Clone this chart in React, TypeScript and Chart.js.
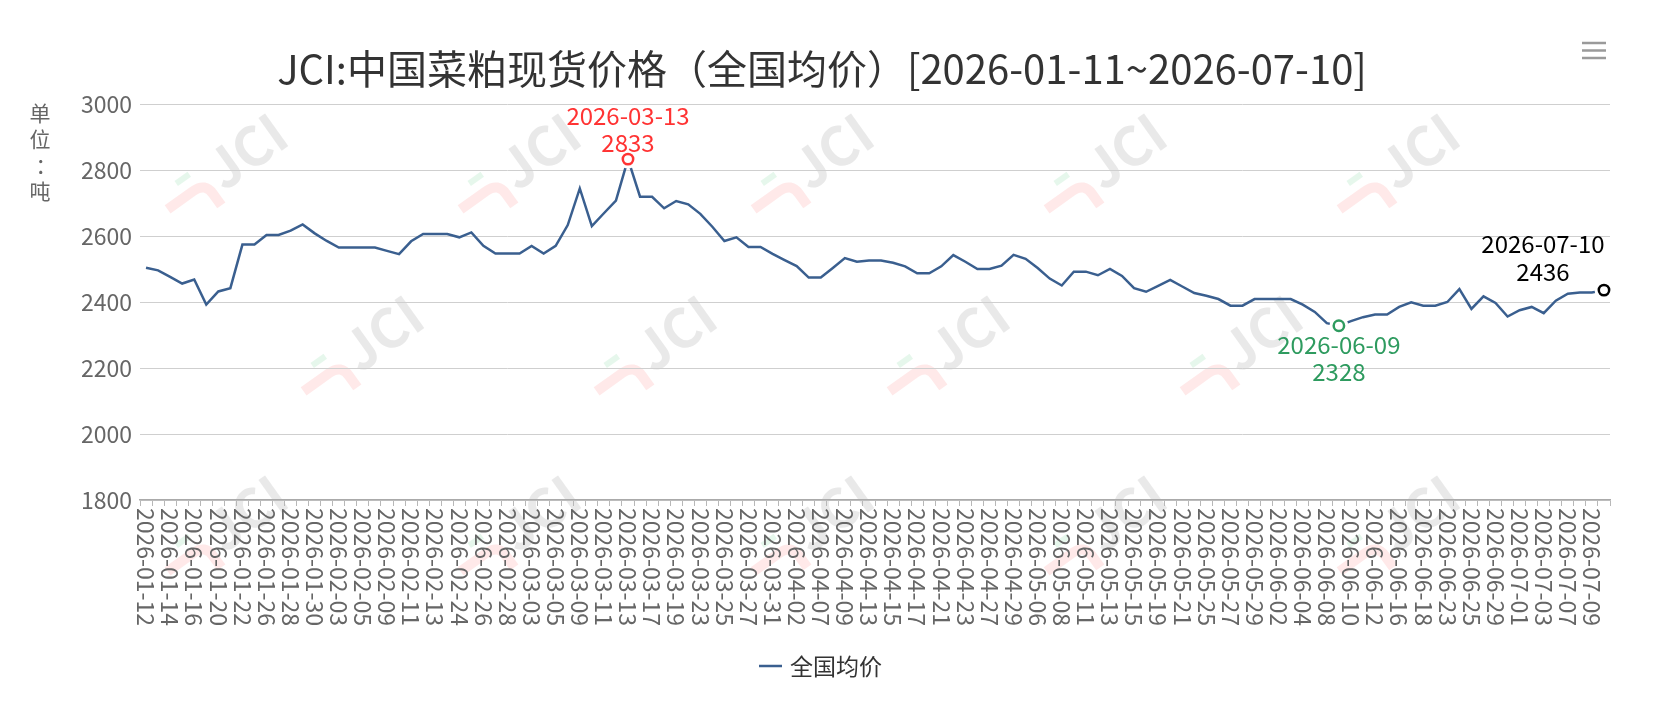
import React, { useEffect, useRef } from "react";
import { Chart, registerables } from "chart.js";

Chart.register(...registerables);

const TITLE = "JCI:中国菜粕现货价格（全国均价）[2026-01-11~2026-07-10]";
const SERIES_NAME = "全国均价";
const Y_TITLE_CHARS = ["单", "位", "：", "吨"];
const Y_MIN = 1800;
const Y_MAX = 3000;
const Y_STEP = 200;

const DATES = [
  "2026-01-12", "2026-01-13", "2026-01-14", "2026-01-15", "2026-01-16", "2026-01-19", "2026-01-20", "2026-01-21", "2026-01-22", "2026-01-23",
  "2026-01-26", "2026-01-27", "2026-01-28", "2026-01-29", "2026-01-30", "2026-02-02", "2026-02-03", "2026-02-04", "2026-02-05", "2026-02-06",
  "2026-02-09", "2026-02-10", "2026-02-11", "2026-02-12", "2026-02-13", "2026-02-14", "2026-02-24", "2026-02-25", "2026-02-26", "2026-02-27",
  "2026-02-28", "2026-03-02", "2026-03-03", "2026-03-04", "2026-03-05", "2026-03-06", "2026-03-09", "2026-03-10", "2026-03-11", "2026-03-12",
  "2026-03-13", "2026-03-16", "2026-03-17", "2026-03-18", "2026-03-19", "2026-03-20", "2026-03-23", "2026-03-24", "2026-03-25", "2026-03-26",
  "2026-03-27", "2026-03-30", "2026-03-31", "2026-04-01", "2026-04-02", "2026-04-03", "2026-04-07", "2026-04-08", "2026-04-09", "2026-04-10",
  "2026-04-13", "2026-04-14", "2026-04-15", "2026-04-16", "2026-04-17", "2026-04-20", "2026-04-21", "2026-04-22", "2026-04-23", "2026-04-24",
  "2026-04-27", "2026-04-28", "2026-04-29", "2026-04-30", "2026-05-06", "2026-05-07", "2026-05-08", "2026-05-09", "2026-05-11", "2026-05-12",
  "2026-05-13", "2026-05-14", "2026-05-15", "2026-05-18", "2026-05-19", "2026-05-20", "2026-05-21", "2026-05-22", "2026-05-25", "2026-05-26",
  "2026-05-27", "2026-05-28", "2026-05-29", "2026-06-01", "2026-06-02", "2026-06-03", "2026-06-04", "2026-06-05", "2026-06-08", "2026-06-09",
  "2026-06-10", "2026-06-11", "2026-06-12", "2026-06-15", "2026-06-16", "2026-06-17", "2026-06-18", "2026-06-22", "2026-06-23", "2026-06-24",
  "2026-06-25", "2026-06-26", "2026-06-29", "2026-06-30", "2026-07-01", "2026-07-02", "2026-07-03", "2026-07-06", "2026-07-07", "2026-07-08",
  "2026-07-09", "2026-07-10",
];

const PRICES = [
  2504, 2496, 2476, 2456, 2468, 2392, 2432, 2442, 2574, 2574,
  2603, 2603, 2616, 2635, 2608, 2585, 2565, 2565, 2565, 2565,
  2555, 2545, 2584, 2606, 2606, 2606, 2596, 2611, 2570, 2547,
  2547, 2547, 2570, 2547, 2570, 2633, 2744, 2630, 2669, 2707,
  2833, 2719, 2719, 2684, 2706, 2696, 2667, 2628, 2585, 2596,
  2567, 2567, 2546, 2527, 2509, 2474, 2474, 2503, 2533, 2522,
  2526, 2526, 2519, 2508, 2487, 2487, 2508, 2542, 2522, 2500,
  2500, 2510, 2543, 2531, 2503, 2471, 2450, 2492, 2492, 2481,
  2500, 2479, 2442, 2431, 2449, 2467, 2447, 2427, 2419, 2409,
  2389, 2389, 2409, 2409, 2409, 2409, 2392, 2370, 2336, 2328,
  2342, 2354, 2362, 2362, 2385, 2399, 2389, 2389, 2400, 2439,
  2379, 2417, 2397, 2356, 2375, 2385, 2366, 2404, 2425, 2429,
  2429, 2436,
];

const FONT = '"Noto Sans CJK SC", "Noto Sans", sans-serif';
const LINE_COLOR = "#3a5f8f";

function argMax(a: number[]) {
  let k = 0;
  for (let i = 1; i < a.length; i++) if (a[i] > a[k]) k = i;
  return k;
}
function argMin(a: number[]) {
  let k = 0;
  for (let i = 1; i < a.length; i++) if (a[i] < a[k]) k = i;
  return k;
}

const MAX_I = argMax(PRICES);
const MIN_I = argMin(PRICES);
const LAST_I = PRICES.length - 1;

const MARKS = [
  { i: MAX_I, color: "#ff3333", dx: 0, l1: -43, l2: -16 },
  { i: MIN_I, color: "#2e9b5f", dx: 0, l1: 19, l2: 46 },
  { i: LAST_I, color: "#000000", dx: -61, l1: -46, l2: -18 },
];

const WATERMARKS = [
  [229, 168], [522, 168], [815, 168], [1108, 168], [1401, 168],
  [365, 350], [658, 350], [951, 350], [1244, 350],
  [229, 530], [522, 530], [815, 530], [1108, 530], [1401, 530],
];

function drawLogo(ctx: CanvasRenderingContext2D, cx: number, cy: number) {
  ctx.save();
  ctx.translate(cx, cy);
  ctx.rotate(-0.62);
  ctx.lineCap = "butt";
  ctx.lineJoin = "miter";
  ctx.strokeStyle = "rgba(255,110,110,0.15)";
  ctx.lineWidth = 10;
  ctx.beginPath();
  ctx.moveTo(-74, -2);
  ctx.lineTo(-42, -2);
  ctx.quadraticCurveTo(-28, -2, -28, 12);
  ctx.lineTo(-28, 26);
  ctx.stroke();
  ctx.strokeStyle = "rgba(90,200,130,0.15)";
  ctx.lineWidth = 6;
  ctx.beginPath();
  ctx.moveTo(-52, -18);
  ctx.lineTo(-36, -18);
  ctx.stroke();
  ctx.fillStyle = "rgba(170,170,170,0.26)";
  ctx.font = `bold 54px ${FONT}`;
  ctx.textAlign = "left";
  ctx.textBaseline = "middle";
  ctx.fillText("JCI", -18, -4);
  ctx.restore();
}

const decorPlugin = {
  id: "decor",
  beforeDraw(chart: any) {
    const ctx = chart.ctx as CanvasRenderingContext2D;
    for (const [x, y] of WATERMARKS) drawLogo(ctx, x, y);
  },
  afterDraw(chart: any) {
    const ctx = chart.ctx as CanvasRenderingContext2D;
    const xs = chart.scales.x;
    const ys = chart.scales.y;
    const area = chart.chartArea;

    ctx.save();
    // title
    ctx.fillStyle = "#333333";
    ctx.font = `40px ${FONT}`;
    ctx.textAlign = "center";
    ctx.textBaseline = "middle";
    ctx.fillText(TITLE, 822, 69);

    // menu icon
    ctx.strokeStyle = "#9a9a9a";
    ctx.lineWidth = 2.5;
    for (const yy of [43, 50.5, 58]) {
      ctx.beginPath();
      ctx.moveTo(1582, yy);
      ctx.lineTo(1606, yy);
      ctx.stroke();
    }

    // y axis title (stacked)
    ctx.fillStyle = "#666666";
    ctx.font = `21px ${FONT}`;
    Y_TITLE_CHARS.forEach((ch, k) => {
      const cy = 113 + k * 26;
      ctx.fillText(ch, ch === "：" ? 46 : 40, cy);
    });

    // x labels rotated clockwise
    ctx.fillStyle = "#666666";
    ctx.font = `23px ${FONT}`;
    ctx.textAlign = "left";
    ctx.textBaseline = "middle";
    DATES.forEach((d, i) => {
      if (i % 2 !== 0) return;
      const x = xs.getPixelForValue(i);
      ctx.save();
      ctx.translate(x, area.bottom + 8);
      ctx.rotate(Math.PI / 2);
      ctx.fillText(d, 0, 0);
      ctx.restore();
    });

    // marked points
    for (const m of MARKS) {
      const px = xs.getPixelForValue(m.i);
      const py = ys.getPixelForValue(PRICES[m.i]);
      ctx.fillStyle = "#ffffff";
      ctx.beginPath();
      ctx.arc(px, py, 9.5, 0, Math.PI * 2);
      ctx.fill();
      ctx.strokeStyle = m.color;
      ctx.lineWidth = 2.5;
      ctx.beginPath();
      ctx.arc(px, py, 5.2, 0, Math.PI * 2);
      ctx.stroke();
      ctx.fillStyle = m.color;
      ctx.font = `24px ${FONT}`;
      ctx.textAlign = "center";
      ctx.textBaseline = "middle";
      ctx.fillText(DATES[m.i], px + m.dx, py + m.l1);
      ctx.fillText(String(PRICES[m.i]), px + m.dx, py + m.l2);
    }

    // legend
    ctx.strokeStyle = LINE_COLOR;
    ctx.lineWidth = 2.5;
    ctx.beginPath();
    ctx.moveTo(759, 666);
    ctx.lineTo(782, 666);
    ctx.stroke();
    ctx.fillStyle = "#333333";
    ctx.font = `23px ${FONT}`;
    ctx.textAlign = "left";
    ctx.textBaseline = "middle";
    ctx.fillText(SERIES_NAME, 790, 666);
    ctx.restore();
  },
};

export default function App() {
  const ref = useRef<HTMLCanvasElement | null>(null);

  useEffect(() => {
    document.body.style.margin = "0";
    const canvas = ref.current;
    if (!canvas) return;
    const chart = new Chart(canvas, {
      type: "line",
      data: {
        labels: DATES,
        datasets: [
          {
            label: SERIES_NAME,
            data: PRICES,
            borderColor: LINE_COLOR,
            backgroundColor: LINE_COLOR,
            borderWidth: 2.5,
            pointRadius: 0,
            pointHoverRadius: 0,
            tension: 0,
            fill: false,
          },
        ],
      },
      options: {
        animation: false,
        responsive: true,
        maintainAspectRatio: false,
        events: [],
        layout: { padding: { left: 0, right: 60, top: 104, bottom: 0 } },
        plugins: {
          legend: { display: false },
          title: { display: false },
          tooltip: { enabled: false },
        },
        scales: {
          x: {
            type: "category",
            offset: true,
            grid: {
              offset: true,
              drawOnChartArea: false,
              drawTicks: true,
              tickLength: 6,
              color: "#b8b8b8",
            },
            border: { display: true, color: "#aaaaaa", width: 1.5 },
            ticks: { display: false, autoSkip: false },
            afterFit: (s: any) => {
              s.height = 210;
            },
          },
          y: {
            min: Y_MIN,
            max: Y_MAX,
            grid: { color: "#cfcfcf", drawTicks: false, lineWidth: 1 },
            border: { display: false },
            ticks: {
              stepSize: Y_STEP,
              padding: 8,
              color: "#666666",
              font: { family: FONT, size: 23 },
              callback: (v: any) => String(v),
            },
            afterFit: (s: any) => {
              s.width = 140;
            },
          },
        },
      },
      plugins: [decorPlugin],
    });
    return () => chart.destroy();
  }, []);

  return (
    <div style={{ width: 1670, height: 710, position: "relative" }}>
      <canvas ref={ref} />
    </div>
  );
}
